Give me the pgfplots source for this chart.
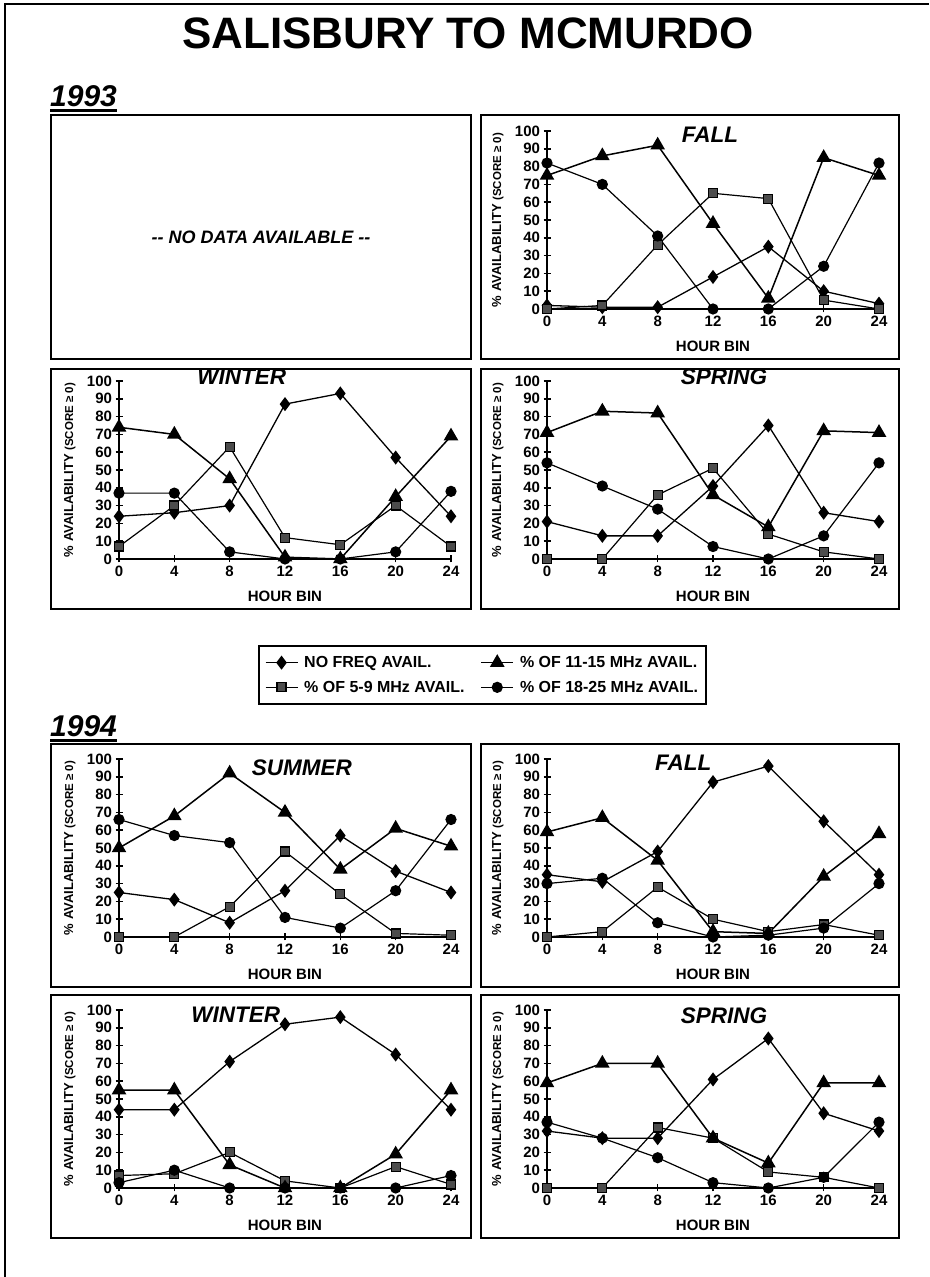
\documentclass[border=0pt]{standalone}
\usepackage{fontspec}
\setmainfont{Liberation Sans}
\usepackage{pgfplots}
\usepackage{pgfplotstable}
\pgfplotsset{compat=1.18}

% hour bin, no freq, 5-9 MHz, 11-15 MHz, 18-25 MHz (percent)
\pgfplotstableread{
h  nf  m5  m11  m18
0  2   0   75   82
4  1   2   86   70
8  1   36  92   41
12 18  65  48   0
16 35  62  6    0
20 10  5   85   24
24 3   0   75   82
}\fallA
\pgfplotstableread{
h  nf  m5  m11  m18
0  24  7   74   37
4  26  30  70   37
8  30  63  45   4
12 87  12  1    0
16 93  8   0    0
20 57  30  35   4
24 24  7   69   38
}\winterA
\pgfplotstableread{
h  nf  m5  m11  m18
0  21  0   71   54
4  13  0   83   41
8  13  36  82   28
12 41  51  36   7
16 75  14  18   0
20 26  4   72   13
24 21  0   71   54
}\springA
\pgfplotstableread{
h  nf  m5  m11  m18
0  25  0   50   66
4  21  0   68   57
8  8   17  92   53
12 26  48  70   11
16 57  24  38   5
20 37  2   61   26
24 25  1   51   66
}\summerB
\pgfplotstableread{
h  nf  m5  m11  m18
0  35  0   59   30
4  31  3   67   33
8  48  28  43   8
12 87  10  3    0
16 96  3   2    1
20 65  7   34   5
24 35  1   58   30
}\fallB
\pgfplotstableread{
h  nf  m5  m11  m18
0  44  7   55   3
4  44  8   55   10
8  71  20  13   0
12 92  4   0    0
16 96  0   0    0
20 75  12  19   0
24 44  2   55   7
}\winterB
\pgfplotstableread{
h  nf  m5  m11  m18
0  32  0   59   37
4  28  0   70   28
8  28  34  70   17
12 61  28  28   3
16 84  9   14   0
20 42  6   59   6
24 32  0   59   37
}\springB

\pgfplotsset{
  nofreq/.style={black, line width=1.3pt, mark=diamond*, mark size=6pt, mark options={solid, fill=black}},
  mfive/.style={black, line width=1.2pt, mark=square*, mark size=4.5pt, mark options={solid, fill=black!70}},
  meleven/.style={black, line width=1.5pt, mark=triangle*, mark size=7pt, mark options={solid, fill=black}},
  meighteen/.style={black, line width=1.2pt, mark=*, mark size=5pt, mark options={solid, fill=black}},
  panel/.style={
    scale only axis, width=332pt, height=178pt,
    xmin=0, xmax=24, ymin=0, ymax=100,
    axis x line=bottom, axis y line=left,
    axis line style={line width=2pt, -},
    xtick={0,4,...,24}, ytick={0,10,...,100},
    tick align=center, major tick length=7pt,
    every tick/.style={black, line width=1.5pt},
    tick label style={font=\fontsize{15}{15}\selectfont\bfseries},
    /pgf/number format/assume math mode=true,
    xlabel={HOUR BIN},
    xlabel style={font=\fontsize{15}{15}\selectfont\bfseries, at={(axis description cs:0.5,-0.208)}, anchor=center},
    ylabel={\% AVAILABILITY {\fontsize{11.5}{11.5}\selectfont(SCORE ≥ 0)}},
    ylabel style={font=\fontsize{13}{13}\selectfont\bfseries, at={(axis description cs:-0.148,0.5)}, anchor=center},
    clip=false,
  },
}
\tikzset{season/.style={font=\fontsize{22.5}{22.5}\selectfont\bfseries\itshape, inner sep=0pt}}

% #1,#2 lower left of the plot area, #3 table, #4 season, #5,#6 title position
\newcommand{\panel}[6]{%
  \begin{axis}[panel, at={(#1pt,#2pt)}, anchor=south west]
    \addplot[nofreq] table[x=h, y=nf]{#3};
    \addplot[mfive] table[x=h, y=m5]{#3};
    \addplot[meleven] table[x=h, y=m11]{#3};
    \addplot[meighteen] table[x=h, y=m18]{#3};
    \node[season] at (axis description cs:#5,#6) {#4};
  \end{axis}}

\begin{document}
\begin{tikzpicture}
\path[use as bounding box] (0pt,0pt) rectangle (929pt,1277pt);
\draw[line width=2pt] (5pt,0pt) -- (5pt,1273pt) -- (929pt,1273pt);

\node[font=\fontsize{44}{44}\selectfont\bfseries] at (468pt,1244pt) {SALISBURY TO MCMURDO};

% 1993
\node[font=\fontsize{30}{30}\selectfont\bfseries\itshape, anchor=base west, inner sep=0pt] (y93) at (50pt,1170pt) {1993};
\draw[line width=3pt] ([yshift=-4pt]y93.base west) -- ([yshift=-4pt]y93.base east);
\node[font=\fontsize{18}{18}\selectfont\bfseries\itshape] at (261pt,1040pt) {-{}- NO DATA AVAILABLE -{}-};

\panel{547}{968}{\fallA}{FALL}{0.491}{0.978}
\panel{119}{718}{\winterA}{WINTER}{0.370}{1.022}
\panel{547}{718}{\springA}{SPRING}{0.533}{1.022}

% legend
\begin{axis}[hide axis, scale only axis, width=10pt, height=10pt,
  at={(482.5pt,602pt)}, anchor=center,
  xmin=0, xmax=1, ymin=0, ymax=1,
  legend columns=2, legend cell align=left,
  legend image code/.code={\draw[mark repeat=2, mark phase=2] plot coordinates {(0pt,0pt) (16pt,0pt) (32pt,0pt)};},
  legend style={at={(0.5,0.5)}, anchor=center, draw=black, line width=2pt,
    font=\fontsize{16}{16}\selectfont\bfseries, inner xsep=6pt, inner ysep=8pt,
    row sep=8pt, /tikz/every even column/.append style={column sep=14pt}}]
  \addlegendimage{nofreq}\addlegendentry{\hspace{4pt}NO FREQ AVAIL.}
  \addlegendimage{meleven}\addlegendentry{\hspace{4pt}\% OF 11-15 MHz AVAIL.}
  \addlegendimage{mfive}\addlegendentry{\hspace{4pt}\% OF 5-9 MHz AVAIL.}
  \addlegendimage{meighteen}\addlegendentry{\hspace{4pt}\% OF 18-25 MHz AVAIL.}
\end{axis}

% 1994
\node[font=\fontsize{30}{30}\selectfont\bfseries\itshape, anchor=base west, inner sep=0pt] (y94) at (50pt,540pt) {1994};
\draw[line width=3pt] ([yshift=-4pt]y94.base west) -- ([yshift=-4pt]y94.base east);

\panel{119}{340}{\summerB}{SUMMER}{0.551}{0.949}
\panel{547}{340}{\fallB}{FALL}{0.410}{0.978}
\panel{119}{89}{\winterB}{WINTER}{0.352}{0.972}
\panel{547}{89}{\springB}{SPRING}{0.533}{0.966}

% panel frames
\begin{scope}[line width=2pt]
  \draw (51pt,918pt) rectangle (471pt,1162pt);
  \draw (481pt,918pt) rectangle (899pt,1162pt);
  \draw (51pt,668pt) rectangle (471pt,908pt);
  \draw (481pt,668pt) rectangle (899pt,908pt);
  \draw (51pt,290pt) rectangle (471pt,533pt);
  \draw (481pt,290pt) rectangle (899pt,533pt);
  \draw (51pt,39pt) rectangle (471pt,282pt);
  \draw (481pt,39pt) rectangle (899pt,282pt);
\end{scope}
\end{tikzpicture}
\end{document}
